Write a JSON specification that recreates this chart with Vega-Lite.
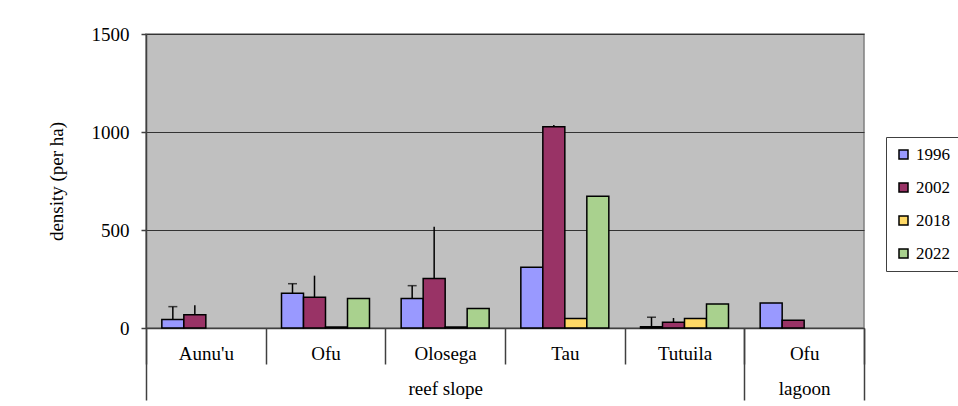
{
  "$schema": "https://vega.github.io/schema/vega-lite/v6.json",
  "width": 718,
  "height": 294,
  "autosize": "none",
  "padding": {"left": 146, "top": 34, "right": 94, "bottom": 78},
  "background": "white",
  "config": {
    "font": "Liberation Serif",
    "view": {"fill": "#C0C0C0", "stroke": "#808080", "strokeWidth": 1.5},
    "axis": {
      "labelFont": "Liberation Serif",
      "titleFont": "Liberation Serif",
      "labelColor": "black",
      "titleColor": "black",
      "labelFontSize": 19,
      "titleFontSize": 19,
      "titleFontWeight": "normal",
      "domainColor": "#404040",
      "tickColor": "#404040",
      "domainWidth": 1.5,
      "tickWidth": 1.5
    }
  },
  "datasets": {
    "bars": [
      {"key": "reef slope|Aunu'u", "year": "1996", "value": 44, "err": 109},
      {"key": "reef slope|Aunu'u", "year": "2002", "value": 68, "err": 116},
      {"key": "reef slope|Ofu", "year": "1996", "value": 177, "err": 226},
      {"key": "reef slope|Ofu", "year": "2002", "value": 157, "err": 267},
      {"key": "reef slope|Ofu", "year": "2018", "value": 5},
      {"key": "reef slope|Ofu", "year": "2022", "value": 151},
      {"key": "reef slope|Olosega", "year": "1996", "value": 151, "err": 216},
      {"key": "reef slope|Olosega", "year": "2002", "value": 253, "err": 517},
      {"key": "reef slope|Olosega", "year": "2018", "value": 5},
      {"key": "reef slope|Olosega", "year": "2022", "value": 100},
      {"key": "reef slope|Tau", "year": "1996", "value": 310},
      {"key": "reef slope|Tau", "year": "2002", "value": 1027, "err": 1036},
      {"key": "reef slope|Tau", "year": "2018", "value": 49},
      {"key": "reef slope|Tau", "year": "2022", "value": 672},
      {"key": "reef slope|Tutuila", "year": "1996", "value": 7, "err": 55},
      {"key": "reef slope|Tutuila", "year": "2002", "value": 29, "err": 51},
      {"key": "reef slope|Tutuila", "year": "2018", "value": 48},
      {"key": "reef slope|Tutuila", "year": "2022", "value": 122},
      {"key": "lagoon|Ofu", "year": "1996", "value": 128},
      {"key": "lagoon|Ofu", "year": "2002", "value": 39}
    ],
    "habitats": [
      {"habitat": "reef slope", "pos": 2.5},
      {"habitat": "lagoon", "pos": 5.5}
    ]
  },
  "layer": [
    {
      "data": {"name": "bars"},
      "encoding": {
        "x": {
          "field": "key",
          "type": "nominal",
          "sort": null,
          "scale": {
            "domain": ["reef slope|Aunu'u", "reef slope|Ofu", "reef slope|Olosega", "reef slope|Tau", "reef slope|Tutuila", "lagoon|Ofu"],
            "paddingInner": 0,
            "paddingOuter": 0
          },
          "axis": {
            "title": null,
            "labelExpr": "split(datum.label, '|')[1]",
            "tickBand": "extent",
            "tickSize": 36,
            "labelPadding": -20,
            "labelAngle": 0,
            "grid": false,
            "domain": true
          }
        },
        "xOffset": {
          "field": "year",
          "type": "nominal",
          "scale": {"domain": ["1996", "2002", "2018", "2022"], "paddingInner": 0, "paddingOuter": 0.72}
        }
      },
      "layer": [
        {
          "mark": {"type": "bar", "stroke": "black", "strokeWidth": 1.5},
          "encoding": {
            "y": {
              "field": "value",
              "type": "quantitative",
              "scale": {"domain": [0, 1500], "nice": false},
              "axis": {
                "values": [0, 500, 1000, 1500],
                "format": "d",
                "grid": true,
                "gridColor": "#333333",
                "gridWidth": 1,
                "tickSize": 5,
                "labelPadding": 12,
                "title": "density (per ha)",
                "titlePadding": 25
              }
            },
            "color": {
              "field": "year",
              "type": "nominal",
              "scale": {
                "domain": ["1996", "2002", "2018", "2022"],
                "range": ["#9999FF", "#993366", "#FFD966", "#A9D18E"]
              },
              "legend": {
                "title": null,
                "orient": "none",
                "legendX": 740,
                "legendY": 103,
                "strokeColor": "#404040",
                "fillColor": "white",
                "padding": 9,
                "symbolType": "square",
                "symbolSize": 81,
                "symbolStrokeColor": "black",
                "symbolStrokeWidth": 1.5,
                "labelFont": "Liberation Serif",
                "labelFontSize": 17,
                "labelColor": "black",
                "rowPadding": 15,
                "labelOffset": 4
              }
            }
          }
        },
        {
          "transform": [{"filter": "isValid(datum.err)"}],
          "mark": {"type": "rule", "color": "black", "strokeWidth": 1.5},
          "encoding": {
            "y": {"field": "value", "type": "quantitative"},
            "y2": {"field": "err"}
          }
        },
        {
          "transform": [{"filter": "isValid(datum.err) && datum.year == '1996'"}],
          "mark": {"type": "tick", "color": "black", "thickness": 1.5, "size": 9},
          "encoding": {
            "y": {"field": "err", "type": "quantitative"}
          }
        }
      ]
    },
    {
      "data": {"name": "habitats"},
      "mark": {"type": "point", "opacity": 0},
      "encoding": {
        "x": {
          "field": "pos",
          "type": "quantitative",
          "scale": {"domain": [0, 6], "nice": false, "zero": false},
          "axis": {
            "orient": "bottom",
            "title": null,
            "values": [0, 2.5, 5, 5.5, 6],
            "labelExpr": "datum.value == 2.5 ? 'reef slope' : datum.value == 5.5 ? 'lagoon' : ''",
            "tickSize": 72,
            "tickOpacity": {"condition": {"test": "datum.value == 2.5 || datum.value == 5.5", "value": 0}, "value": 1},
            "labelPadding": -21,
            "labelFlush": false,
            "labelOverlap": false,
            "domain": false,
            "grid": false
          }
        }
      }
    }
  ],
  "resolve": {"scale": {"x": "independent"}, "axis": {"x": "independent"}}
}
